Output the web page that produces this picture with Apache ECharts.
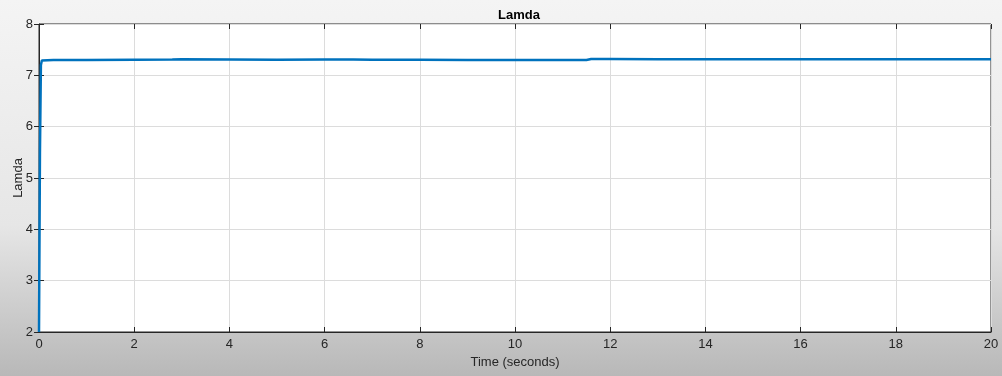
<!DOCTYPE html>
<html>
<head>
<meta charset="utf-8">
<script src="https://cdn.jsdelivr.net/npm/echarts@6/dist/echarts.min.js"></script>
<style>html,body{margin:0;padding:0;}#c{width:1002px;height:376px;}</style>
</head>
<body>
<div id="c"></div>
<script>
var titleText = 'Lamda';
var xName = 'Time (seconds)';
var yName = 'Lamda';
var timeValues = [0, 0.02, 0.04, 0.06, 0.1, 0.3, 1, 2, 2.8, 3, 4, 5, 6, 6.6, 7, 8, 9, 10, 11, 11.5, 11.6, 12, 13, 14, 15, 16, 17, 18, 19, 20];
var lamdaValues = [2, 5.5, 7.2, 7.29, 7.30, 7.30, 7.30, 7.305, 7.31, 7.315, 7.31, 7.305, 7.31, 7.31, 7.305, 7.305, 7.30, 7.30, 7.30, 7.30, 7.32, 7.32, 7.315, 7.315, 7.315, 7.315, 7.315, 7.315, 7.315, 7.315];

var seriesData = timeValues.map(function(t, i){ return [t, lamdaValues[i]]; });
var font = 'Liberation Sans, Arial, Helvetica, sans-serif';
var chart = echarts.init(document.getElementById('c'));
var tick = {show:true, inside:true, length:5, lineStyle:{color:'#262626', width:1}};
chart.setOption({
  backgroundColor: {type:'linear', x:0, y:0, x2:0, y2:1, colorStops:[{offset:0,color:'#f4f4f4'},{offset:0.6,color:'#e6e6e6'},{offset:1,color:'#b8b8b8'}]},
  animation:false,
  title:{text:titleText, left:514, top:4, textAlign:'center', textStyle:{fontFamily:font, fontSize:13, fontWeight:'bold', color:'#000'}},
  grid:{left:39, right:11, top:24, bottom:44, containLabel:false, outerBoundsMode:'none', show:true, backgroundColor:'#fff', borderColor:'#262626', borderWidth:1},
  xAxis:[{type:'value', min:0, max:20, interval:2, position:'bottom',
    name:xName, nameLocation:'middle', nameGap:22, nameTextStyle:{fontFamily:font, fontSize:13, color:'#262626'},
    axisLine:{show:true, lineStyle:{color:'#262626'}}, axisTick:tick,
    axisLabel:{fontFamily:font, fontSize:13, color:'#262626', margin:6},
    splitLine:{show:true, lineStyle:{color:'#dcdcdc', width:1}}},
    {type:'value', min:0, max:20, interval:2, position:'top', axisLine:{show:false}, axisTick:tick, axisLabel:{show:false}, splitLine:{show:false}}],
  yAxis:[{type:'value', min:2, max:8, interval:1, position:'left',
    name:yName, nameLocation:'middle', nameGap:14, nameMoveOverlap:false, nameTextStyle:{fontFamily:font, fontSize:13, color:'#262626'},
    axisLine:{show:true, lineStyle:{color:'#262626'}}, axisTick:tick,
    axisLabel:{fontFamily:font, fontSize:13, color:'#262626', margin:6},
    splitLine:{show:true, lineStyle:{color:'#dcdcdc', width:1}}},
    {type:'value', min:2, max:8, interval:1, position:'right', axisLine:{show:false}, axisTick:tick, axisLabel:{show:false}, splitLine:{show:false}}],
  series:[{type:'line', data:seriesData, showSymbol:false, symbol:'none', lineStyle:{color:'#0072BD', width:2.5}, clip:true}]
});
</script>
</body>
</html>
